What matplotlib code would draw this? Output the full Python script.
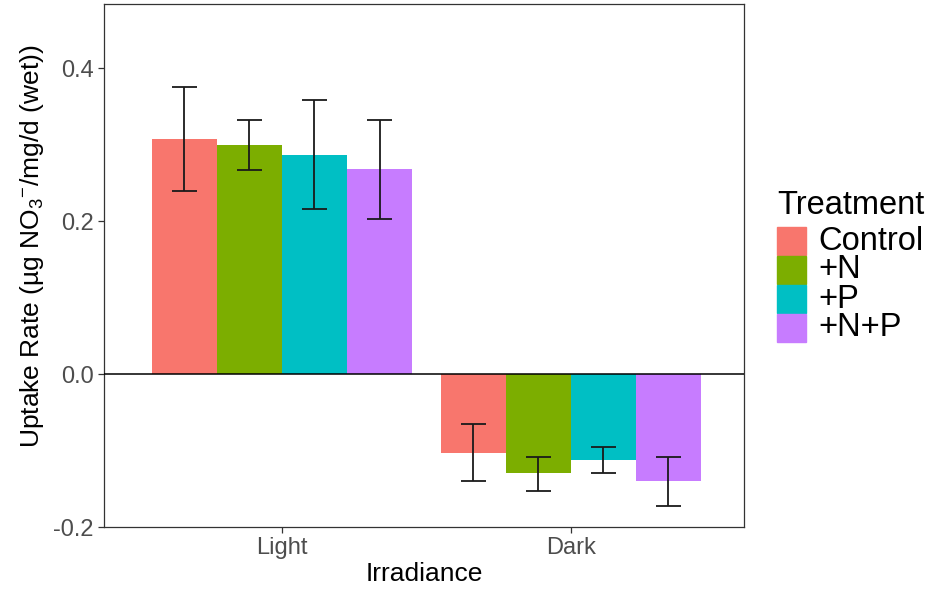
import numpy as np
import matplotlib
matplotlib.use("Agg")
from matplotlib import pyplot as plt
from matplotlib.patches import Rectangle

# dados
irradiancia = ["Light", "Dark"]
tratamentos = ["Control", "+N", "+P", "+N+P"]
cores = ["#F8766D", "#7CAE00", "#00BFC4", "#C77CFF"]

taxa_light = [0.307, 0.299, 0.287, 0.268]
taxa_dark = [-0.103, -0.130, -0.112, -0.140]
erro_sup_light = [0.375, 0.332, 0.359, 0.332]
erro_inf_light = [0.240, 0.267, 0.216, 0.203]
erro_sup_dark = [-0.065, -0.108, -0.095, -0.108]
erro_inf_dark = [-0.140, -0.153, -0.129, -0.173]

plt.rcParams["font.family"] = ["Liberation Sans", "DejaVu Sans"]
plt.rcParams["mathtext.default"] = "regular"

fig = plt.figure(figsize=(9.35, 5.9), dpi=100)
ax = fig.add_axes([104 / 935, 1 - 527 / 590, 640 / 935, 523 / 590])

largura = 0.225
posicoes = np.arange(1, len(irradiancia) + 1)
valores = np.array([taxa_light, taxa_dark])
sup = np.array([erro_sup_light, erro_sup_dark])
inf = np.array([erro_inf_light, erro_inf_dark])

for i, (trat, cor) in enumerate(zip(tratamentos, cores)):
    x = posicoes + (i - 1.5) * largura
    ax.bar(x, valores[:, i], width=largura, color=cor, edgecolor="none", zorder=2)
    ax.vlines(x, inf[:, i], sup[:, i], color="#1a1a1a", lw=1.3, zorder=3)
    for xi, a, b in zip(x, inf[:, i], sup[:, i]):
        ax.hlines([a, b], xi - 0.043, xi + 0.043, color="#1a1a1a", lw=1.3, zorder=3)

ax.axhline(0, color="black", lw=1.1, zorder=4)

ax.set_xlim(0.384, 2.599)
ax.set_ylim(-0.2, 0.484)
ax.set_yticks([-0.2, 0.0, 0.2, 0.4])
ax.set_yticklabels(["-0.2", "0.0", "0.2", "0.4"])
ax.set_xticks(posicoes)
ax.set_xticklabels(irradiancia)
ax.tick_params(colors="#333333", labelcolor="#4D4D4D", labelsize=17, length=4, width=0.9)
for s in ax.spines.values():
    s.set_color("#333333")
    s.set_linewidth(0.9)

ax.set_xlabel("Irradiance", fontsize=19, labelpad=2)
ax.set_ylabel(r"Uptake Rate (µg NO$_3$$^{-}$/mg/d (wet))", fontsize=19)
ax.yaxis.set_label_coords(-0.09, 0.537)

# legenda manual
fig.text(777 / 935, 1 - 205 / 590, "Treatment", fontsize=23.5, va="center", ha="left")
for i, (trat, cor) in enumerate(zip(tratamentos, cores)):
    yc = 241 + 29 * i
    fig.patches.append(Rectangle((777 / 935, 1 - (yc + 14) / 590), 29 / 935, 28 / 590,
                                 transform=fig.transFigure, color=cor))
    fig.text(818 / 935, 1 - yc / 590, trat, fontsize=23.5, va="center", ha="left")

fig.savefig("out.png", dpi=100)
